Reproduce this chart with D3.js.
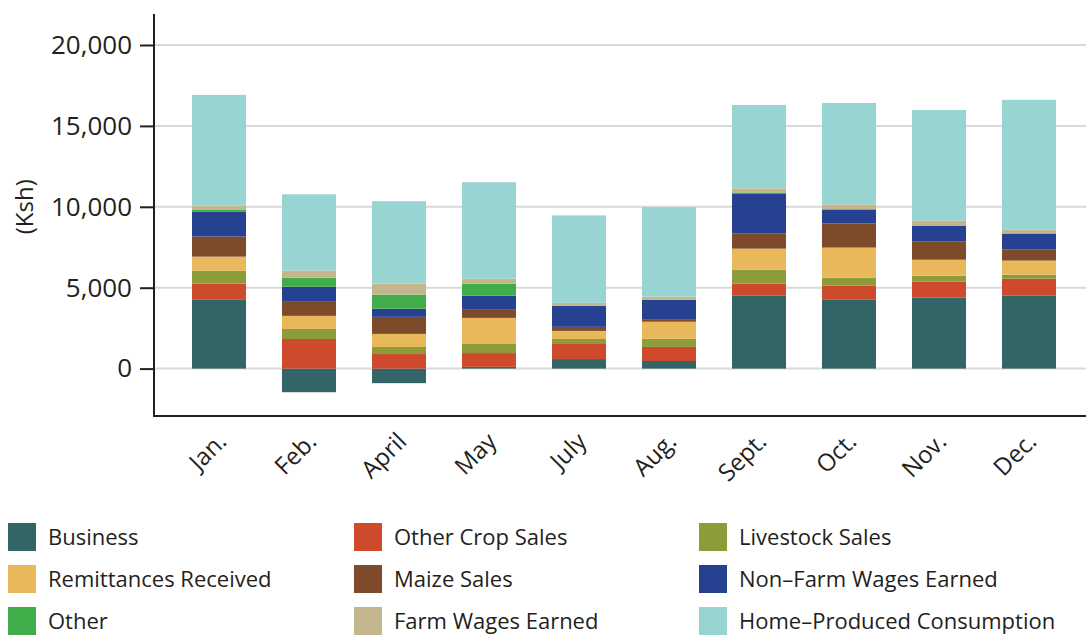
<!DOCTYPE html>
<html>
<head>
<meta charset="utf-8">
<script src="https://cdn.jsdelivr.net/npm/d3@7"></script>
<style>
  html, body { margin: 0; padding: 0; background: #fff; }
  svg { display: block; font-family: "Open Sans", "Noto Sans", sans-serif; }
</style>
</head>
<body>
<svg id="chart" width="1086" height="635"></svg>
<script>
const months = ["Jan.", "Feb.", "April", "May", "July", "Aug.", "Sept.", "Oct.", "Nov.", "Dec."];
const seriesNames = ["Business", "Other Crop Sales", "Livestock Sales", "Remittances Received",
  "Maize Sales", "Non–Farm Wages Earned", "Other", "Farm Wages Earned", "Home–Produced Consumption"];
const seriesColors = ["#336466", "#cf4a2d", "#8e9b39", "#e8b85a", "#7d4b2a", "#25418f", "#41ad4a", "#c3b68d", "#98d5d2"];

const business      = [4250, -1460, -900, 110, 590, 470, 4500, 4250, 4380, 4500];
const otherCrop     = [1000, 1830, 900, 850, 930, 870, 745, 870, 990, 1055];
const livestock     = [800, 620, 435, 560, 310, 500, 870, 500, 370, 250];
const remittances   = [870, 810, 810, 1615, 500, 1055, 1300, 1860, 990, 870];
const maize         = [1240, 870, 1055, 500, 250, 125, 930, 1490, 1120, 680];
const nonFarmWages  = [1550, 930, 500, 870, 1300, 1240, 2485, 870, 990, 995];
const other         = [125, 560, 870, 745, 0, 0, 60, 0, 0, 0];
const farmWages     = [250, 435, 685, 310, 190, 190, 250, 310, 310, 250];
const homeProduced  = [6830, 4720, 5090, 5960, 5400, 5530, 5155, 6270, 6830, 8010];

const yTicks = [0, 5000, 10000, 15000, 20000];
const yLabel = "(Ksh)";

const seriesValues = [business, otherCrop, livestock, remittances, maize, nonFarmWages, other, farmWages, homeProduced];
const table = months.map((m, i) => {
  const row = { month: m };
  seriesNames.forEach((s, j) => row[s] = seriesValues[j][i]);
  return row;
});

const svg = d3.select("#chart");
const axisLeft = 154, axisTop = 14, axisBottom = 416, plotRight = 1086;

const x = d3.scaleBand().domain(months).range([156, 1092]).paddingInner(0.4).paddingOuter(0.4);
const y = d3.scaleLinear().domain([0, 20000]).range([368.6, 45]);
const color = d3.scaleOrdinal().domain(seriesNames).range(seriesColors);

// gridlines
svg.append("g").selectAll("line").data(yTicks).join("line")
  .attr("x1", axisLeft).attr("x2", plotRight)
  .attr("y1", d => y(d)).attr("y2", d => y(d))
  .attr("stroke", "#d9d9d9").attr("stroke-width", 2);

// stacked bars
const stack = d3.stack().keys(seriesNames).offset(d3.stackOffsetDiverging);
const layers = stack(table);
svg.append("g").selectAll("g").data(layers).join("g")
  .attr("fill", d => color(d.key))
  .selectAll("rect").data(d => d).join("rect")
  .attr("x", d => x(d.data.month))
  .attr("width", x.bandwidth())
  .attr("y", d => y(Math.max(d[0], d[1])))
  .attr("height", d => Math.abs(y(d[0]) - y(d[1])));

// axes lines
svg.append("line").attr("x1", axisLeft).attr("x2", axisLeft).attr("y1", axisTop).attr("y2", axisBottom + 1)
  .attr("stroke", "#231f20").attr("stroke-width", 2);
svg.append("line").attr("x1", axisLeft - 1).attr("x2", plotRight).attr("y1", axisBottom).attr("y2", axisBottom)
  .attr("stroke", "#231f20").attr("stroke-width", 2);

// y axis ticks & labels
const yAxis = d3.axisLeft(y).tickValues(yTicks).tickSize(14).tickPadding(8).tickFormat(d3.format(","));
const gy = svg.append("g").attr("transform", `translate(${axisLeft},0)`).call(yAxis);
gy.select(".domain").remove();
gy.selectAll(".tick line").attr("stroke", "#231f20").attr("stroke-width", 2);
gy.selectAll(".tick text").attr("fill", "#231f20").style("font-size", "26px")
  .style("font-family", "'Open Sans', sans-serif");

// y label
svg.append("text").attr("transform", `translate(33,${y(10000)}) rotate(-90)`)
  .attr("text-anchor", "middle").attr("fill", "#231f20").style("font-size", "24px")
  .text(yLabel);

// x labels
svg.append("g").selectAll("text").data(months).join("text")
  .attr("transform", d => `translate(${x(d) + x.bandwidth() / 2 + 9},${axisBottom + 27}) rotate(-45)`)
  .attr("text-anchor", "end").attr("fill", "#231f20").style("font-size", "24px")
  .text(d => d);

// legend
const legendCols = [8, 354, 699];
const legendRows = [537, 579, 621];
const lg = svg.append("g").selectAll("g").data(seriesNames).join("g")
  .attr("transform", (d, i) => `translate(${legendCols[i % 3]},${legendRows[Math.floor(i / 3)]})`);
lg.append("rect").attr("x", 0).attr("y", -14).attr("width", 28).attr("height", 28)
  .attr("fill", d => color(d));
lg.append("text").attr("x", 40).attr("y", 0).attr("dy", "0.35em")
  .attr("fill", "#231f20").style("font-size", "22px").text(d => d);
</script>
</body>
</html>
